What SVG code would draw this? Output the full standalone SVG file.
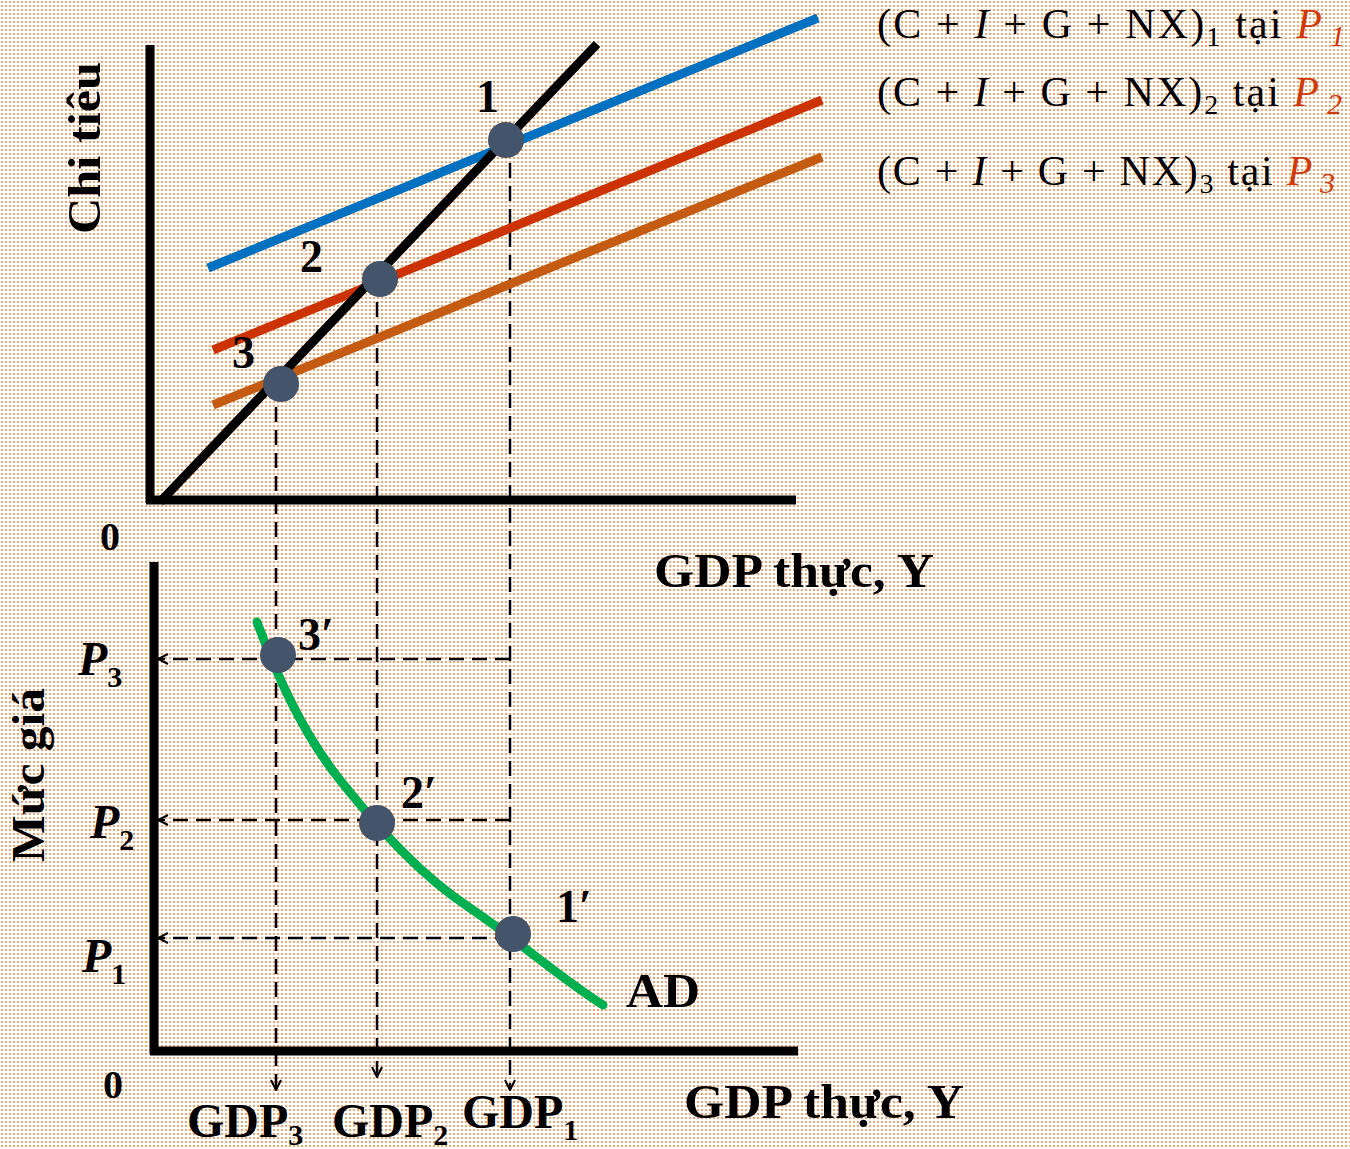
<svg xmlns="http://www.w3.org/2000/svg" width="1350" height="1149" viewBox="0 0 1350 1149">
<defs>
<pattern id="bg" width="4" height="4" patternUnits="userSpaceOnUse">
<rect width="4" height="4" fill="#ffffff"/>
<rect x="1" y="1" width="2" height="2" fill="#F4A36C"/>
</pattern>
<marker id="arr" viewBox="0 0 12 12" refX="11" refY="6" markerWidth="12" markerHeight="12" markerUnits="userSpaceOnUse" orient="auto">
<path d="M1,1 L11,6 L1,11" fill="none" stroke="#000" stroke-width="2"/>
</marker>
<style>
.ax{stroke:#000;stroke-width:9;fill:none}
.dash{stroke:#000;stroke-width:2.5;fill:none;stroke-dasharray:15 8}
.ae{stroke-width:9;fill:none}
.dot{fill:#44546A}
.lb{font-family:"Liberation Serif","DejaVu Serif",serif;font-weight:bold;fill:#000}
.eq{font-family:"Liberation Serif","DejaVu Serif",serif;font-size:42px;fill:#000}
.red{fill:#D03A0A;font-style:italic}
</style>
</defs>
<rect width="1350" height="1149" fill="url(#bg)"/>

<g id="axes">
<line class="ax" x1="150" y1="45" x2="150" y2="503"/>
<line class="ax" x1="146" y1="500" x2="796" y2="500"/>
<line class="ax" x1="154" y1="562" x2="154" y2="1054"/>
<line class="ax" x1="150" y1="1051" x2="798" y2="1051"/>
</g>

<g id="connectors">
<line class="dash" x1="276" y1="384" x2="276" y2="1090" marker-end="url(#arr)"/>
<line class="dash" x1="377" y1="279" x2="377" y2="1077" marker-end="url(#arr)"/>
<line class="dash" x1="510" y1="140" x2="510" y2="1090" marker-end="url(#arr)"/>
<line class="dash" x1="510" y1="659" x2="158" y2="659" marker-end="url(#arr)"/>
<line class="dash" x1="510" y1="820" x2="158" y2="820" marker-end="url(#arr)"/>
<line class="dash" x1="510" y1="938" x2="158" y2="938" marker-end="url(#arr)"/>
</g>

<g id="lines">
<line class="ae" stroke="#0070C0" x1="208" y1="268" x2="818" y2="18"/>
<line class="ae" stroke="#CC3300" x1="213" y1="350" x2="822" y2="100"/>
<line class="ae" stroke="#C55A11" x1="213" y1="405" x2="822" y2="157"/>
<line class="ae" stroke="#000" x1="160" y1="502" x2="597" y2="44"/>
<path id="AD" class="ae" stroke="#00B050" stroke-linecap="round" d="M257,622 C275,670 300,730 340,780 C380,830 420,875 470,908 C520,942 560,978 603,1005"/>
</g>

<g id="node-1"><circle class="dot" cx="506" cy="140" r="18"/><text class="lb" x="476" y="112" font-size="46">1</text></g>
<g id="node-2"><circle class="dot" cx="380" cy="279" r="18"/><text class="lb" x="300" y="272" font-size="46">2</text></g>
<g id="node-3"><circle class="dot" cx="281" cy="384" r="18"/><text class="lb" x="232" y="368" font-size="46">3</text></g>
<g id="node-3p"><circle class="dot" cx="278" cy="655" r="18"/><text class="lb" x="298" y="650" font-size="46">3′</text></g>
<g id="node-2p"><circle class="dot" cx="377" cy="823" r="18"/><text class="lb" x="401" y="808" font-size="46">2′</text></g>
<g id="node-1p"><circle class="dot" cx="513" cy="934" r="18"/><text class="lb" x="556" y="922" font-size="46">1′</text></g>

<g id="labels">
<text class="lb" font-size="46" transform="translate(100,148) rotate(-90)" text-anchor="middle" textLength="172" lengthAdjust="spacingAndGlyphs">Chi tiêu</text>
<text class="lb" font-size="46" transform="translate(44,775) rotate(-90)" text-anchor="middle" textLength="174" lengthAdjust="spacingAndGlyphs">Mức giá</text>
<text class="lb" x="100" y="550" font-size="40">0</text>
<text class="lb" x="103" y="1098" font-size="40">0</text>
<text class="lb" x="654" y="587" font-size="48" textLength="280" lengthAdjust="spacingAndGlyphs">GDP thực, Y</text>
<text class="lb" x="684" y="1118" font-size="48" textLength="280" lengthAdjust="spacingAndGlyphs">GDP thực, Y</text>
<text class="lb" x="626" y="1007" font-size="48" textLength="74" lengthAdjust="spacingAndGlyphs">AD</text>
<text class="lb" x="78" y="675" font-size="48" font-style="italic">P<tspan font-size="30" font-style="normal" dy="12">3</tspan></text>
<text class="lb" x="90" y="838" font-size="48" font-style="italic">P<tspan font-size="30" font-style="normal" dy="12">2</tspan></text>
<text class="lb" x="82" y="972" font-size="48" font-style="italic">P<tspan font-size="30" font-style="normal" dy="12">1</tspan></text>
<text class="lb" x="187" y="1137" font-size="48">GDP<tspan font-size="30" dy="8">3</tspan></text>
<text class="lb" x="332" y="1137" font-size="48">GDP<tspan font-size="30" dy="8">2</tspan></text>
<text class="lb" x="462" y="1128" font-size="48">GDP<tspan font-size="30" dy="12">1</tspan></text>
<text class="eq" x="877" y="38" textLength="468" lengthAdjust="spacing">(C + <tspan font-style="italic">I</tspan> + G + NX)<tspan font-size="28" dy="8">1</tspan><tspan dy="-8"> tại </tspan><tspan class="red">P</tspan><tspan class="red" font-style="normal" font-size="30" dx="6" dy="8">1</tspan></text>
<text class="eq" x="877" y="106" textLength="465" lengthAdjust="spacing">(C + <tspan font-style="italic">I</tspan> + G + NX)<tspan font-size="28" dy="8">2</tspan><tspan dy="-8"> tại </tspan><tspan class="red">P</tspan><tspan class="red" font-style="normal" font-size="30" dx="6" dy="8">2</tspan></text>
<text class="eq" x="877" y="185" textLength="458" lengthAdjust="spacing">(C + <tspan font-style="italic">I</tspan> + G + NX)<tspan font-size="28" dy="8">3</tspan><tspan dy="-8"> tại </tspan><tspan class="red">P</tspan><tspan class="red" font-style="normal" font-size="30" dx="6" dy="8">3</tspan></text>
</g>
</svg>
